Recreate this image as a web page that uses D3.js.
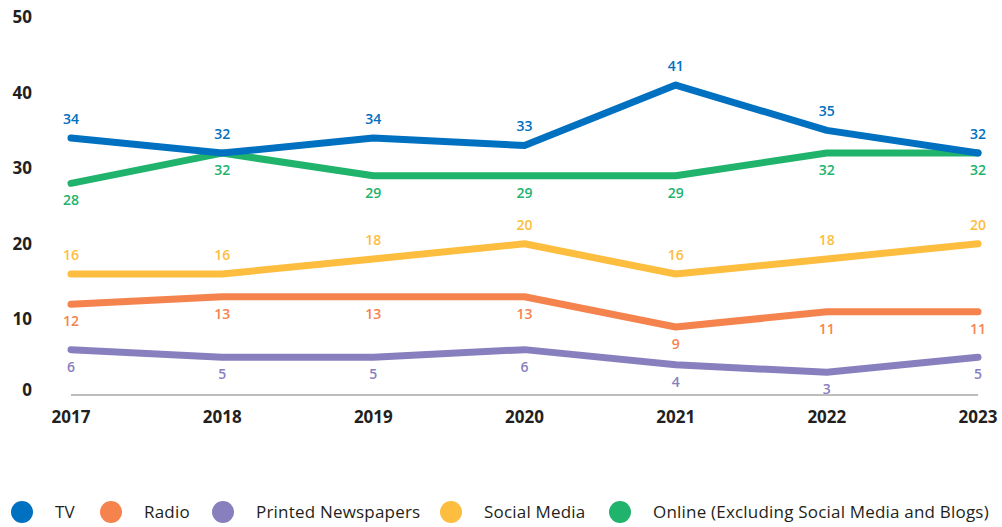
<!DOCTYPE html>
<html>
<head>
<meta charset="utf-8">
<script src="https://cdn.jsdelivr.net/npm/d3@7"></script>
<style>
  html, body { margin:0; padding:0; background:#fff; }
  svg { display:block; font-family:"Open Sans", sans-serif; }
</style>
</head>
<body>
<svg id="chart" width="1002" height="527"></svg>
<script>
/* ---------- data ---------- */
const years      = ["2017","2018","2019","2020","2021","2022","2023"];
const tv         = [34, 32, 34, 33, 41, 35, 32];
const radio      = [12, 13, 13, 13, 9, 11, 11];
const newspapers = [6, 5, 5, 6, 4, 3, 5];
const social     = [16, 16, 18, 20, 16, 18, 20];
const online     = [28, 32, 29, 29, 29, 32, 32];
const yTicks     = [0, 10, 20, 30, 40, 50];

const series = [
  { name:"TV",                 values:tv,         color:"#0070c0", labelPos:"above" },
  { name:"Radio",              values:radio,      color:"#f5834e", labelPos:"below" },
  { name:"Printed Newspapers", values:newspapers, color:"#8880be", labelPos:"below" },
  { name:"Social Media",       values:social,     color:"#fdbd3e", labelPos:"above" },
  { name:"Online (Excluding Social Media and Blogs)", values:online, color:"#20b36b", labelPos:"below" }
];

/* ---------- layout ---------- */
const svg = d3.select("#chart");
const x = d3.scalePoint().domain(years).range([71, 978]);
const y = d3.scaleLinear().domain([0, 50]).range([395, 17]);

/* baseline */
svg.append("line")
  .attr("x1", x(years[0])).attr("x2", x(years[years.length-1]))
  .attr("y1", y(0)).attr("y2", y(0))
  .attr("stroke", "#bdbdbd").attr("stroke-width", 2);

/* y axis labels */
svg.append("g").selectAll("text")
  .data(yTicks).enter().append("text")
  .attr("x", 32)
  .attr("y", d => d === 0 ? y(d) - 5 : y(d))
  .attr("dy", "0.35em")
  .attr("text-anchor", "end")
  .attr("font-size", 17).attr("font-weight", 700).attr("fill", "#231f20")
  .text(d => d);

/* x axis labels */
svg.append("g").selectAll("text")
  .data(years).enter().append("text")
  .attr("x", d => x(d))
  .attr("y", 417).attr("dy", "0.35em")
  .attr("text-anchor", "middle")
  .attr("font-size", 17).attr("font-weight", 700).attr("fill", "#231f20")
  .text(d => d);

/* lines — draw back to front so TV sits on top like the original */
const line = d3.line()
  .x((d, i) => x(years[i]))
  .y(d => y(d));

const drawOrder = [2, 1, 3, 4, 0];
drawOrder.forEach(idx => {
  const s = series[idx];
  svg.append("path")
    .datum(s.values)
    .attr("d", line)
    .attr("fill", "none")
    .attr("stroke", s.color)
    .attr("stroke-width", 7)
    .attr("stroke-linecap", "round")
    .attr("stroke-linejoin", "round");
});

/* value labels */
series.forEach(s => {
  svg.append("g").selectAll("text")
    .data(s.values).enter().append("text")
    .attr("x", (d, i) => x(years[i]))
    .attr("y", d => s.labelPos === "above" ? y(d) - 19 : y(d) + 17)
    .attr("dy", "0.35em")
    .attr("text-anchor", "middle")
    .attr("font-size", 14).attr("font-weight", 600)
    .attr("fill", s.color)
    .text(d => d);
});

/* legend */
const legendX = [22, 111, 223, 451, 620];
const legend = svg.append("g").selectAll("g")
  .data(series).enter().append("g")
  .attr("transform", (d, i) => `translate(${legendX[i]},512)`);
legend.append("circle").attr("r", 11).attr("fill", d => d.color);
legend.append("text")
  .attr("x", 33).attr("dy", "0.35em")
  .attr("font-size", 17).attr("font-weight", 500).attr("fill", "#231f20")
  .attr("letter-spacing", 0.2)
  .text(d => d.name);
</script>
</body>
</html>
